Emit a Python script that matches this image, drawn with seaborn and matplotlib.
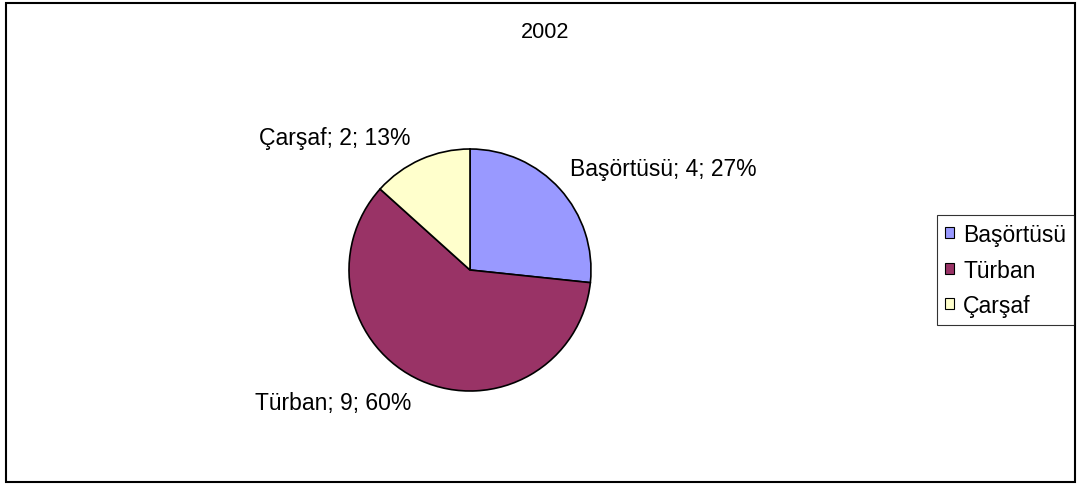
import matplotlib
matplotlib.use("Agg")
import matplotlib.pyplot as plt
import seaborn as sns
from matplotlib.patches import Rectangle

categories = ["Başörtüsü", "Türban", "Çarşaf"]
values = [4, 9, 2]
percents = ["27%", "60%", "13%"]
colors = ["#9999FF", "#993366", "#FFFFCC"]

sns.set_style("white")
plt.rcParams["font.family"] = ["Liberation Sans", "DejaVu Sans"]
plt.rcParams["text.color"] = "black"

W, H = 1080, 485
fig = plt.figure(figsize=(W / 100, H / 100), dpi=100)

# pie centre (470, 271) px, radius ~121 px
cx, cy, r = 470, 271, 121
box = 2.0 * r
ax = fig.add_axes([(cx - r) / W, 1 - (cy + r) / H, box / W, box / H])

FS = 16.5
labels = [f"{c}; {v}; {p}" for c, v, p in zip(categories, values, percents)]
wedges, texts = ax.pie(values, colors=colors, startangle=90, counterclock=False,
                       labels=labels, labeldistance=1.2,
                       wedgeprops=dict(edgecolor="black", linewidth=1.2),
                       textprops=dict(fontsize=FS, color="black"))
ax.set_xlim(-1, 1)
ax.set_ylim(-1, 1)
ax.set_aspect("equal")
# nudge the first label toward the pie
x0, y0 = texts[0].get_position()
texts[0].set_position((x0 - 0.065, y0 + 0.035))

fig.text(545 / W, 1 - 32 / H, "2002", ha="center", va="center", fontsize=15.6)

leg = fig.legend(wedges, categories, loc="center left",
                 bbox_to_anchor=(937 / W, 1 - 271 / H),
                 fontsize=FS, frameon=True, fancybox=False,
                 edgecolor="black", handlelength=0.37, handleheight=0.37,
                 handletextpad=0.42, borderpad=0.35, labelspacing=0.55,
                 borderaxespad=0, labelcolor="black")
leg.get_frame().set_linewidth(0.8)
for h in leg.legend_handles:
    h.set_edgecolor("black")
    h.set_linewidth(0.8)

fig.patches.append(Rectangle((6 / W, 2 / H), (1075 - 6) / W, (483 - 4) / H,
                             transform=fig.transFigure, fill=False,
                             edgecolor="black", linewidth=1.5))

fig.savefig("out.png", dpi=100)
